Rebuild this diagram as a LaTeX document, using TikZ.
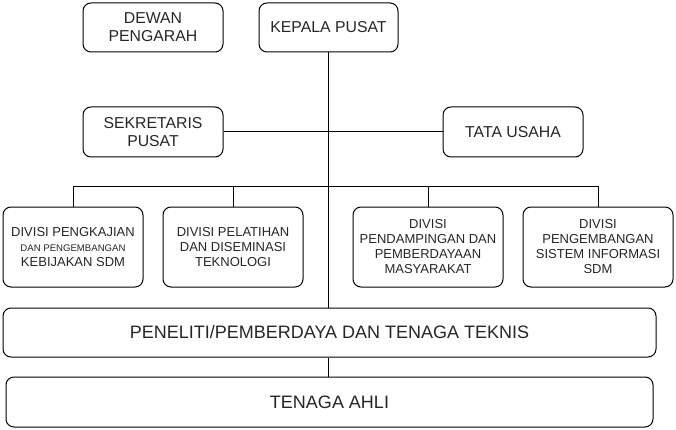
\documentclass[tikz,border=0pt]{standalone}
\usepackage{fontspec}
\setmainfont{Liberation Sans}
\begin{document}
\begin{tikzpicture}[x=1pt,y=-1pt,
  box/.style={draw=black, line width=1pt, rounded corners=8pt, align=center,
    inner sep=0pt, text=black!85},
  topfont/.style={font=\fontsize{15.8}{18}\selectfont},
  divfont/.style={font=\fontsize{13}{15}\selectfont},
  bigfont/.style={font=\fontsize{18}{20}\selectfont},
  conn/.style={draw=black, line width=1pt}]
\useasboundingbox (0,0) rectangle (676,430);
\node[box, topfont, minimum width=140, minimum height=49] (dewan) at (153,27.5) {DEWAN\\PENGARAH};
\node[box, topfont, minimum width=139, minimum height=49] (kepala) at (328.5,27.5) {KEPALA PUSAT};
\node[box, topfont, minimum width=140, minimum height=50] (sek) at (153,132) {SEKRETARIS\\PUSAT};
\node[box, topfont, minimum width=140, minimum height=50] (tata) at (513,132) {TATA USAHA};
\node[box, divfont, minimum width=140, minimum height=80] (d1) at (73,247) {DIVISI PENGKAJIAN\\{\fontsize{9.6}{15}\selectfont DAN PENGEMBANGAN}\\KEBIJAKAN SDM};
\node[box, divfont, minimum width=140, minimum height=80] (d2) at (233,247) {DIVISI PELATIHAN\\DAN DISEMINASI\\TEKNOLOGI};
\node[box, divfont, minimum width=150, minimum height=80] (d3) at (428,247) {DIVISI\\PENDAMPINGAN DAN\\PEMBERDAYAAN\\MASYARAKAT};
\node[box, divfont, minimum width=150, minimum height=80] (d4) at (598,247) {DIVISI\\PENGEMBANGAN\\SISTEM INFORMASI\\SDM};
\node[box, bigfont, minimum width=653, minimum height=49] (pen) at (329.5,332.5) {PENELITI/PEMBERDAYA DAN TENAGA TEKNIS};
\node[box, bigfont, minimum width=647, minimum height=50] (ahli) at (329.5,402) {TENAGA AHLI};
\coordinate (bus) at (329,187);
\draw[conn] (kepala.south) -- (kepala.south |- pen.north);
\draw[conn] (sek.east) -- (tata.west);
\draw[conn] (d1.north) -- (d1.north |- bus) -- (d4.north |- bus) -- (d4.north);
\draw[conn] (d2.north) -- (d2.north |- bus);
\draw[conn] (d3.north) -- (d3.north |- bus);
\draw[conn] (kepala.south |- pen.south) -- (kepala.south |- ahli.north);
\end{tikzpicture}
\end{document}
